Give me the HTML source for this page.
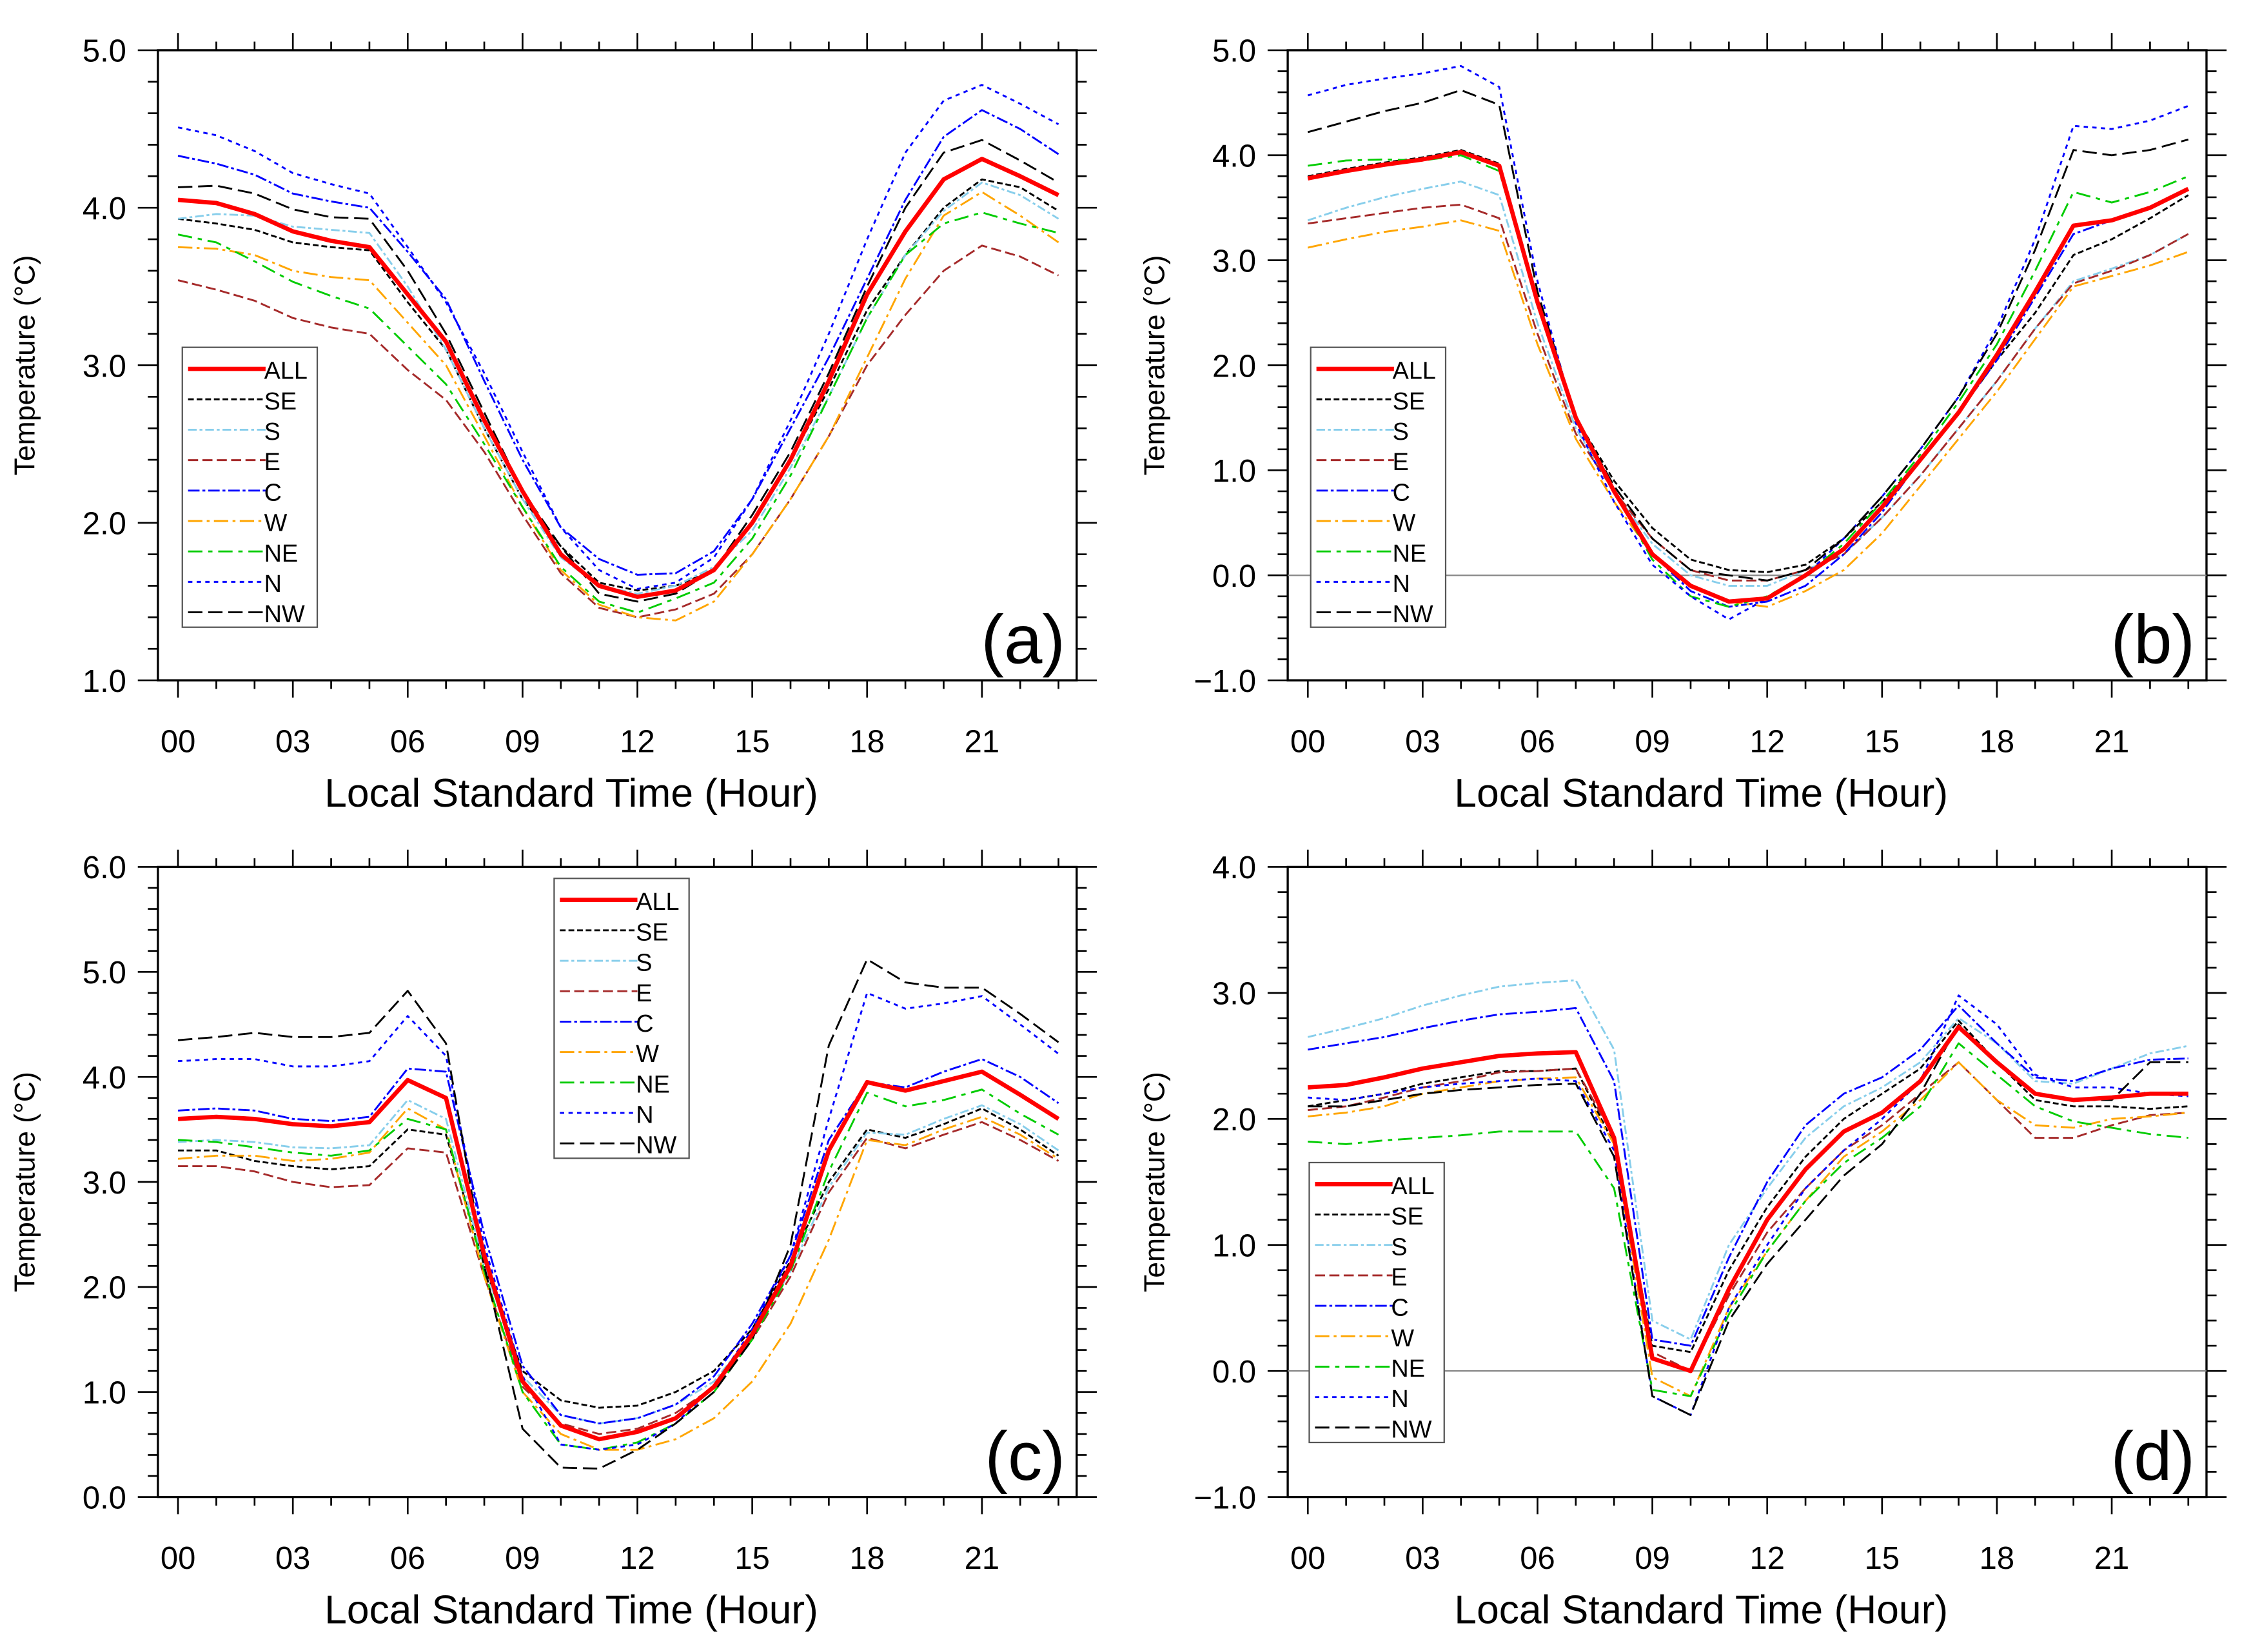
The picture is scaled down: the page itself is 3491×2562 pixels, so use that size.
<!DOCTYPE html>
<html><head><meta charset="utf-8"><style>
html,body{margin:0;padding:0;background:#fff}
svg{display:block;font-family:"Liberation Sans",sans-serif}
</style></head><body>
<svg id="chart" width="3491" height="2562" viewBox="0 0 1568 1151" preserveAspectRatio="none" xmlns="http://www.w3.org/2000/svg"></svg>
<script>
const hours = [0,1,2,3,4,5,6,7,8,9,10,11,12,13,14,15,16,17,18,19,20,21,22,23];
const seriesNames = ["ALL","SE","S","E","C","W","NE","N","NW"];
const xTickLabels = ["00","03","06","09","12","15","18","21"];
const panelA = [
[4.05,4.03,3.96,3.85,3.79,3.75,3.45,3.15,2.65,2.2,1.8,1.6,1.53,1.57,1.7,2.0,2.4,2.9,3.45,3.85,4.18,4.31,4.2,4.08],
[3.93,3.9,3.86,3.78,3.75,3.73,3.4,3.1,2.6,2.15,1.85,1.62,1.57,1.6,1.7,2.0,2.4,2.85,3.35,3.7,4.0,4.18,4.13,3.98],
[3.93,3.96,3.95,3.88,3.86,3.84,3.5,3.1,2.6,2.15,1.78,1.6,1.55,1.6,1.72,1.95,2.35,2.8,3.3,3.7,3.98,4.16,4.08,3.93],
[3.54,3.48,3.41,3.3,3.24,3.2,2.97,2.78,2.45,2.05,1.68,1.46,1.4,1.45,1.55,1.8,2.15,2.55,3.0,3.32,3.6,3.76,3.69,3.57],
[4.33,4.28,4.21,4.09,4.04,4.0,3.72,3.42,2.9,2.4,1.97,1.77,1.67,1.68,1.82,2.15,2.6,3.05,3.55,4.05,4.45,4.62,4.5,4.34],
[3.75,3.74,3.7,3.6,3.56,3.54,3.27,3.0,2.55,2.1,1.7,1.48,1.4,1.38,1.5,1.8,2.15,2.55,3.05,3.55,3.95,4.1,3.95,3.78],
[3.83,3.78,3.66,3.53,3.44,3.36,3.12,2.88,2.5,2.1,1.72,1.5,1.43,1.52,1.62,1.9,2.3,2.8,3.3,3.7,3.9,3.97,3.9,3.84],
[4.51,4.46,4.36,4.22,4.15,4.09,3.75,3.4,2.95,2.45,1.97,1.7,1.58,1.62,1.78,2.15,2.65,3.2,3.8,4.35,4.68,4.78,4.66,4.53],
[4.13,4.14,4.09,3.99,3.94,3.93,3.6,3.2,2.7,2.2,1.85,1.55,1.5,1.55,1.7,2.05,2.45,2.95,3.5,4.0,4.35,4.43,4.3,4.16]];
const panelB = [
[3.78,3.85,3.91,3.96,4.03,3.9,2.6,1.5,0.8,0.2,-0.1,-0.25,-0.22,0,0.25,0.65,1.1,1.55,2.1,2.7,3.33,3.38,3.5,3.68],
[3.8,3.87,3.93,3.98,4.05,3.92,2.6,1.5,0.9,0.45,0.15,0.05,0.03,0.1,0.35,0.7,1.1,1.55,2.05,2.5,3.05,3.2,3.4,3.62],
[3.38,3.5,3.6,3.68,3.75,3.62,2.4,1.4,0.8,0.3,0.0,-0.1,-0.1,0.05,0.2,0.55,0.95,1.4,1.85,2.35,2.8,2.92,3.05,3.25],
[3.35,3.4,3.45,3.5,3.53,3.4,2.3,1.35,0.8,0.35,0.05,-0.05,-0.05,0.05,0.2,0.55,0.95,1.4,1.85,2.35,2.78,2.9,3.05,3.25],
[3.78,3.85,3.92,3.97,4.04,3.9,2.6,1.5,0.8,0.2,-0.15,-0.3,-0.25,-0.1,0.2,0.6,1.1,1.55,2.05,2.65,3.25,3.38,3.5,3.68],
[3.12,3.2,3.27,3.32,3.38,3.28,2.2,1.3,0.7,0.2,-0.1,-0.25,-0.3,-0.15,0.05,0.4,0.85,1.3,1.75,2.25,2.75,2.85,2.95,3.08],
[3.9,3.95,3.96,3.95,4.0,3.85,2.6,1.5,0.8,0.15,-0.2,-0.3,-0.2,0.0,0.3,0.7,1.15,1.65,2.2,2.9,3.65,3.55,3.65,3.8],
[4.57,4.67,4.73,4.78,4.85,4.65,2.8,1.45,0.7,0.1,-0.2,-0.42,-0.22,0.0,0.35,0.75,1.2,1.7,2.35,3.2,4.28,4.25,4.33,4.47],
[4.22,4.32,4.42,4.5,4.62,4.48,2.7,1.5,0.85,0.35,0.05,0.0,-0.05,0.05,0.35,0.75,1.2,1.7,2.3,3.1,4.05,4.0,4.05,4.15]];
const panelC = [
[3.6,3.62,3.6,3.55,3.53,3.57,3.97,3.8,2.3,1.1,0.68,0.55,0.62,0.75,1.05,1.55,2.2,3.3,3.95,3.87,3.96,4.05,3.83,3.6],
[3.3,3.3,3.2,3.15,3.12,3.15,3.5,3.45,2.2,1.2,0.92,0.85,0.87,1.0,1.2,1.6,2.25,3.0,3.5,3.42,3.55,3.7,3.5,3.25],
[3.38,3.4,3.38,3.33,3.32,3.35,3.78,3.6,2.2,1.15,0.78,0.7,0.75,0.88,1.1,1.55,2.15,2.95,3.47,3.45,3.6,3.73,3.55,3.3],
[3.15,3.15,3.1,3.0,2.95,2.97,3.32,3.28,2.1,1.05,0.7,0.6,0.65,0.8,1.05,1.5,2.1,2.9,3.42,3.32,3.45,3.57,3.4,3.2],
[3.68,3.7,3.68,3.6,3.58,3.62,4.08,4.05,2.5,1.25,0.78,0.7,0.75,0.88,1.15,1.65,2.3,3.4,3.95,3.9,4.05,4.17,4.0,3.75],
[3.22,3.25,3.25,3.2,3.22,3.28,3.7,3.5,2.1,1.0,0.6,0.45,0.45,0.55,0.75,1.1,1.65,2.45,3.4,3.35,3.5,3.62,3.45,3.22],
[3.4,3.38,3.33,3.28,3.25,3.3,3.6,3.5,2.15,1.0,0.5,0.45,0.52,0.7,1.0,1.5,2.15,3.1,3.85,3.72,3.78,3.88,3.65,3.45],
[4.15,4.17,4.17,4.1,4.1,4.15,4.58,4.2,2.4,1.15,0.5,0.45,0.5,0.7,1.05,1.6,2.3,3.6,4.8,4.65,4.7,4.77,4.5,4.22],
[4.35,4.38,4.42,4.38,4.38,4.42,4.82,4.32,2.2,0.65,0.28,0.27,0.45,0.7,1.0,1.5,2.4,4.3,5.12,4.9,4.85,4.85,4.6,4.33]];
const panelD = [
[2.25,2.27,2.33,2.4,2.45,2.5,2.52,2.53,1.85,0.1,0.0,0.65,1.2,1.6,1.9,2.05,2.3,2.73,2.45,2.2,2.15,2.17,2.2,2.2],
[2.1,2.15,2.2,2.28,2.33,2.38,2.38,2.4,1.8,0.2,0.15,0.8,1.3,1.7,2.0,2.2,2.4,2.78,2.45,2.15,2.1,2.1,2.08,2.1],
[2.65,2.72,2.8,2.9,2.98,3.05,3.08,3.1,2.55,0.4,0.25,1.0,1.45,1.85,2.1,2.25,2.45,2.8,2.6,2.3,2.28,2.4,2.52,2.58],
[2.07,2.1,2.17,2.25,2.3,2.37,2.38,2.4,1.85,0.15,0.0,0.6,1.1,1.45,1.75,1.95,2.2,2.45,2.15,1.85,1.85,1.95,2.03,2.05],
[2.55,2.6,2.65,2.72,2.78,2.83,2.85,2.88,2.3,0.25,0.2,0.9,1.5,1.95,2.2,2.33,2.55,2.9,2.6,2.33,2.3,2.4,2.47,2.48],
[2.02,2.05,2.1,2.2,2.25,2.3,2.32,2.33,1.8,-0.05,-0.2,0.5,0.95,1.35,1.7,1.9,2.15,2.45,2.15,1.95,1.93,2.0,2.02,2.05],
[1.82,1.8,1.83,1.85,1.87,1.9,1.9,1.9,1.45,-0.15,-0.2,0.45,0.95,1.35,1.65,1.85,2.1,2.6,2.35,2.1,1.98,1.93,1.88,1.85],
[2.17,2.15,2.2,2.25,2.28,2.3,2.32,2.3,1.75,-0.2,-0.35,0.5,1.0,1.45,1.75,2.0,2.3,2.98,2.75,2.35,2.25,2.25,2.2,2.18],
[2.1,2.1,2.15,2.2,2.23,2.25,2.27,2.28,1.7,-0.2,-0.35,0.4,0.85,1.2,1.55,1.8,2.2,2.75,2.45,2.2,2.15,2.15,2.45,2.45]];
const yTicksA = ["1.0","2.0","3.0","4.0","5.0"];
const yTicksB = ["-1.0","0.0","1.0","2.0","3.0","4.0","5.0"];
const yTicksC = ["0.0","1.0","2.0","3.0","4.0","5.0","6.0"];
const yTicksD = ["-1.0","0.0","1.0","2.0","3.0","4.0"];

const styles = [
 {c:"#ff0000",w:3,d:""},
 {c:"#000",w:1.3,d:"4,2"},
 {c:"#87ceeb",w:1.3,d:"6,2,2,2"},
 {c:"#a52a2a",w:1.3,d:"7,3"},
 {c:"#0000ff",w:1.3,d:"8,2,2,2"},
 {c:"#ffa500",w:1.3,d:"10,3,2,3"},
 {c:"#00cc00",w:1.3,d:"10,4,3,4"},
 {c:"#0000ff",w:1.3,d:"3,3"},
 {c:"#000",w:1.3,d:"10,4"}];

const NS="http://www.w3.org/2000/svg";
const svg=document.getElementById('chart');
function mk(tag,attrs,parent){const e=document.createElementNS(NS,tag);for(const k in attrs)e.setAttribute(k,attrs[k]);(parent||svg).appendChild(e);return e;}

function panel(id,x0,y0,yTicks,data,letter,legX,legY,zeroLine){
 const x1=x0+640,y1=y0+439;
 const ymin=parseFloat(yTicks[0]),ymax=parseFloat(yTicks[yTicks.length-1]);
 const xs=h=>x0+14+h*(560/21);
 const ys=v=>y1-(v-ymin)/(ymax-ymin)*439;
 const g=mk('g',{});
 
 
 const box=mk('rect',{x:x0,y:y0,width:640,height:439,fill:'none',stroke:'#000','stroke-width':1.5},g);
 
 
 if(zeroLine){const z=mk('line',{x1:x0,x2:x1,y1:ys(0),y2:ys(0),stroke:'#888','stroke-width':1},g);
  }
 hours.forEach(h=>{const L=h%3===0?12:6;const X=xs(h);
  mk('line',{x1:X,x2:X,y1:y1,y2:y1+L,stroke:'#000','stroke-width':1.2},g);
  mk('line',{x1:X,x2:X,y1:y0,y2:y0-L,stroke:'#000','stroke-width':1.2},g);});
 xTickLabels.forEach((t,i)=>{const tx=mk('text',{x:xs(i*3),y:y1+50,'font-size':22,'text-anchor':'middle'},g);tx.textContent=t;
  });
 for(let v=ymin;v<=ymax+1e-6;v+=0.2){const Y=ys(v);const major=Math.abs(v-Math.round(v))<1e-6;const L=major?14:7;
  mk('line',{x1:x0,x2:x0-L,y1:Y,y2:Y,stroke:'#000','stroke-width':1.2},g);
  mk('line',{x1:x1,x2:x1+L,y1:Y,y2:Y,stroke:'#000','stroke-width':1.2},g);}
 yTicks.forEach(t=>{const tx=mk('text',{x:x0-22,y:ys(parseFloat(t))+8,'font-size':22,'text-anchor':'end'},g);tx.textContent=t.replace('-','\u2212');
  });
 const xt=mk('text',{x:x0+288,y:y1+88,'font-size':28,'text-anchor':'middle'},g);xt.textContent='Local Standard Time (Hour)';
 
 const cy=(y0+y1)/2;
 const yt=mk('text',{x:x0-86,y:cy,'font-size':20,'text-anchor':'middle',transform:`rotate(-90 ${x0-86} ${cy})`},g);yt.textContent='Temperature (\u00B0C)';
 
 const order=[1,2,3,4,5,6,7,8,0];
 order.forEach(i=>{const s=styles[i];
  const p=mk('polyline',{points:hours.map((h,k)=>xs(h)+','+ys(data[i][k])).join(' '),fill:'none',stroke:s.c,'stroke-width':s.w,'stroke-dasharray':s.d,'stroke-linejoin':'round'},g);
  
  });
 const lg=mk('g',{},g);
 
 
 mk('rect',{x:legX,y:legY,width:94,height:195,fill:'#fff',stroke:'#555','stroke-width':1},lg);
 seriesNames.forEach((n,i)=>{const s=styles[i];const Y=legY+15+i*21.2;
  const ln=mk('line',{x1:legX+4,x2:legX+58,y1:Y,y2:Y,stroke:s.c,'stroke-width':s.w,'stroke-dasharray':s.d},lg);
  
  const t=mk('text',{x:legX+57,y:Y+7,'font-size':17},lg);t.textContent=n;
  });
 const lt=mk('text',{x:x1-8,y:y1-12,'font-size':48,'text-anchor':'end'},g);lt.textContent='('+letter+')';
 
}
panel('a',110,35,yTicksA,panelA,'a',127,242,false);
panel('b',897,35,yTicksB,panelB,'b',913,242,true);
panel('c',110,604,yTicksC,panelC,'c',386,612,false);
panel('d',897,604,yTicksD,panelD,'d',912,810,true);
</script>
</body></html>
